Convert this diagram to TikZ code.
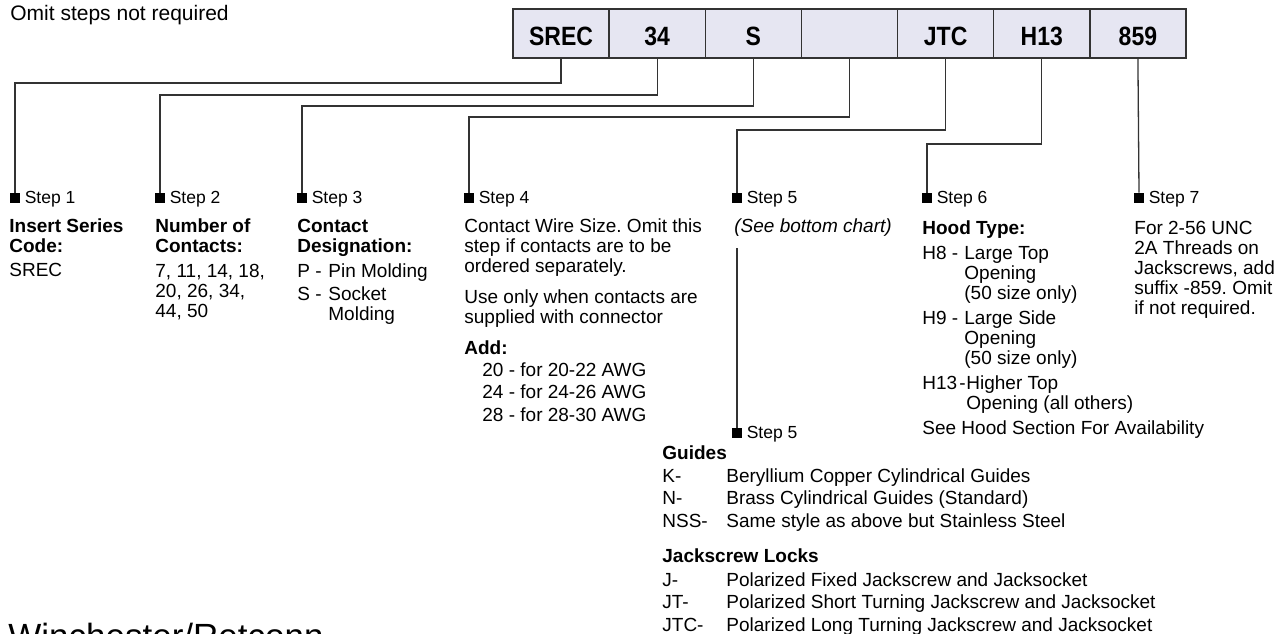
\documentclass[tikz,border=0pt]{standalone}
\usepackage{fontspec}
\setmainfont{Liberation Sans}
\usetikzlibrary{positioning,calc}
\definecolor{cellfill}{RGB}{230,230,242}
\definecolor{linegray}{RGB}{51,51,51}
\frenchspacing

% lines stacked from the first baseline down
\newcommand{\stack}[1]{\begin{tabular}[t]{@{}l@{}}#1\end{tabular}}

\tikzset{
  cell/.style={draw=linegray, fill=cellfill, line width=0.75pt, minimum width=48.07pt,
    minimum height=24.5pt, inner sep=0pt, text height=11.75pt, text depth=0pt,
    font=\fontsize{11.5}{12}\selectfont\bfseries},
  conn/.style={draw=linegray, line width=0.65pt},
  marker/.style={fill=black, minimum size=5pt, inner sep=0pt},
  steplbl/.style={anchor=base west, inner sep=0pt, font=\fontsize{8.75}{10}\selectfont},
  body/.style={anchor=base west, inner sep=0pt, font=\fontsize{9.5}{10}\selectfont},
  head/.style={body, font=\fontsize{9.5}{10}\selectfont\bfseries},
  list/.style={body, font=\fontsize{9.5}{11.25}\selectfont},
}

\begin{document}
\begin{tikzpicture}[x=0.5pt, y=-0.5pt]
    \useasboundingbox (0,0) rectangle (1279,633);
    \clip (0,0) rectangle (1279,633);

    % Part number boxes
    \foreach \lab [count=\i] in {SREC,34,S,{},JTC,H13,859}
        \node[cell] (c\i) at ({513+96.14*(\i-0.5)},33.5) {\scalebox{1}[1.15]{\lab}};

    \node[anchor=base west, inner sep=0pt, font=\fontsize{10.5}{12}\selectfont] (omit) at (10,20) {Omit steps not required};

    % Step markers
    \node[marker] (s1) at (15,198) {};
    \node[marker] (s2) at (160,198) {};
    \node[marker] (s3) at (302,198) {};
    \node[marker] (s4) at (469,198) {};
    \node[marker] (s5) at (737,198) {};
    \node[marker] (s6) at (927,198) {};
    \node[marker] (s7) at (1139,198) {};
    \node[marker] (s8) at (737,433) {};
    \foreach \i in {1,...,7}
        \node[steplbl] (t\i) at ([xshift=2pt]s\i.south east) {Step \i};
    \node[steplbl] (t8) at ([xshift=2pt]s8.south east) {Step 5};

    % Leaders from boxes to steps
    \foreach \i/\y in {1/83,2/95,3/106,4/117,5/130,6/144}
        \draw[conn] (c\i.south) |- (s\i.north |- 0,\y) -- (s\i.north);
    \draw[conn] (c7.south) -- (s7.north);
    \coordinate (v5) at (s5.south |- 0,248);
    \draw[conn] (v5) -- (s8.north);

    % Step 1
    \node[head] (h1) at (9,232) {\stack{Insert Series\\Code:}};
    \node[body] (b1) at (9,276) {SREC};

    % Step 2
    \node[head] (h2) at (155,232) {\stack{Number of\\Contacts:}};
    \node[body] (b2) at (155,277) {\stack{7, 11, 14, 18,\\20, 26, 34,\\44, 50}};

    % Step 3
    \node[head] (h3) at (297,232) {\stack{Contact\\Designation:}};
    \node[body] (p3) at (297,277) {P -};
    \node[body] (pd3) at (328,277) {Pin Molding};
    \node[body] (q3) at (297,300) {S -};
    \node[body] (qd3) at (328,300) {\stack{Socket\\Molding}};

    % Step 4
    \node[body] (b4) at (464,232) {\stack{Contact Wire Size. Omit this\\step if contacts are to be\\ordered separately.}};
    \node[body] (u4) at (464,303) {\stack{Use only when contacts are\\supplied with connector}};
    \node[head] (a4) at (464,354) {Add:};
    \node[list] (l4) at (482,376) {\stack{20 - for 20-22 AWG\\24 - for 24-26 AWG\\28 - for 28-30 AWG}};

    % Step 5
    \node[body, font=\fontsize{9.5}{10}\selectfont\itshape] (b5) at (734,232) {(See bottom chart)};

    % Step 6
    \node[head] (h6) at (922,234) {Hood Type:};
    \node[body] (k8) at (922,259) {H8 -};
    \node[body] (d8) at (964,259) {\stack{Large Top\\Opening\\(50 size only)}};
    \node[body] (k9) at (922,324) {H9 -};
    \node[body] (d9) at (964,324) {\stack{Large Side\\Opening\\(50 size only)}};
    \node[body] (k13) at (922,389) {H13\kern1pt-};
    \node[body] (d13) at (966,389) {\stack{Higher Top\\Opening (all others)}};
    \node[body] (n6) at (922,434) {See Hood Section For Availability};

    % Step 7
    \node[body] (b7) at (1134,234) {\stack{For 2-56 UNC\\2A Threads on\\Jackscrews, add\\suffix -859. Omit\\if not required.}};

    % Bottom chart
    \node[head] (hg) at (662,459) {Guides};
    \node[list] (gk) at (662,482) {\stack{K-\\N-\\NSS-}};
    \node[list] (gd) at (726,482) {\stack{Beryllium Copper Cylindrical Guides\\Brass Cylindrical Guides (Standard)\\Same style as above but Stainless Steel}};
    \node[head] (hj) at (662,562) {Jackscrew Locks};
    \node[list] (jk) at (662,586) {\stack{J-\\JT-\\JTC-}};
    \node[list] (jd) at (726,586) {\stack{Polarized Fixed Jackscrew and Jacksocket\\Polarized Short Turning Jackscrew and Jacksocket\\Polarized Long Turning Jackscrew and Jacksocket}};

    \node[anchor=base west, inner sep=0pt, font=\fontsize{17.5}{20}\selectfont] (brand) at (8,648) {Winchester/Retconn};
\end{tikzpicture}
\end{document}
